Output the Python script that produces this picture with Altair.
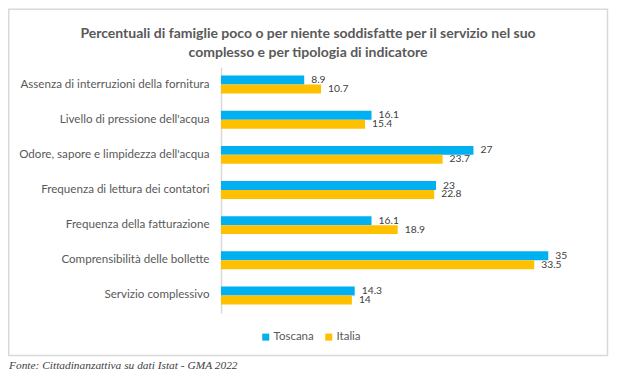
import altair as alt
import pandas as pd

CATEGORIES = [
    "Assenza di interruzioni della fornitura",
    "Livello di pressione dell'acqua",
    "Odore, sapore e limpidezza dell'acqua",
    "Frequenza di lettura dei contatori",
    "Frequenza della fatturazione",
    "Comprensibilità delle bollette",
    "Servizio complessivo",
]
TOSCANA = [8.9, 16.1, 27, 23, 16.1, 35, 14.3]
ITALIA = [10.7, 15.4, 23.7, 22.8, 18.9, 33.5, 14]
SERIES = ["Toscana", "Italia"]
COLORS = ["#00B0F0", "#FFC000"]
TITLE = ("Percentuali di famiglie poco o per niente soddisfatte per il servizio nel suo\n"
         "complesso e per tipologia di indicatore")
SOURCE = "Fonte: Cittadinanzattiva su dati Istat - GMA 2022"

rows = []
for c, t, i in zip(CATEGORIES, TOSCANA, ITALIA):
    rows.append({"categoria": c, "serie": "Toscana", "valore": t})
    rows.append({"categoria": c, "serie": "Italia", "valore": i})
df = pd.DataFrame(rows)

W = 374
H = 246

y_enc = alt.Y(
    "categoria:N",
    sort=CATEGORIES,
    scale=alt.Scale(paddingInner=0.489, paddingOuter=0.2445),
    axis=alt.Axis(
        title=None, ticks=False, domainColor="#d9d9d9", domainWidth=1.5,
        labelFont="Lato", labelFontSize=11.6, labelColor="#595959",
        labelPadding=12, labelLimit=400,
    ),
)
yoff = alt.YOffset("serie:N", sort=SERIES, scale=alt.Scale(paddingInner=0, paddingOuter=0))
x_enc = alt.X("valore:Q", scale=alt.Scale(domain=[0, 40]), axis=None)

base = alt.Chart(df)

bars = base.mark_bar().encode(
    y=y_enc,
    yOffset=yoff,
    x=x_enc,
    color=alt.Color(
        "serie:N",
        sort=SERIES,
        scale=alt.Scale(domain=SERIES, range=COLORS),
        legend=alt.Legend(
            orient="none", legendX=39, legendY=264, direction="horizontal",
            title=None, symbolType="square", symbolSize=49, symbolStrokeWidth=0,
            labelFont="Lato", labelFontSize=11.5, labelColor="#595959",
            labelOffset=2, columnPadding=9,
        ),
    ),
)

labels = base.mark_text(
    align="left", baseline="middle", dx=7, font="Lato", fontSize=10.3, color="#404040"
).encode(
    y=alt.Y("categoria:N", sort=CATEGORIES),
    yOffset=alt.YOffset("serie:N", sort=SERIES),
    x="valore:Q",
    text=alt.Text("valore:Q", format=".1~f"),
)

one = pd.DataFrame({"k": [0]})

frame = alt.Chart(one).mark_rect(
    fill="white", fillOpacity=0, stroke="#d9d9d9", strokeWidth=1.5
).encode(
    x=alt.value(-212.25), x2=alt.value(386.5),
    y=alt.value(-57.65), y2=alt.value(288.6),
)

title = alt.Chart(pd.DataFrame({"t": [TITLE]})).mark_text(
    font="Lato", fontSize=14, fontWeight="bold", color="#595959",
    align="center", baseline="middle", lineBreak="\n", lineHeight=19,
).encode(x=alt.value(87), y=alt.value(-32.9), text="t:N")

source = alt.Chart(pd.DataFrame({"t": [SOURCE]})).mark_text(
    font="Liberation Serif", fontSize=11.4, fontStyle="italic", color="#404040",
    align="left", baseline="middle",
).encode(x=alt.value(-212), y=alt.value(298.6), text="t:N")

chart = alt.layer(frame, bars, labels, title, source).properties(
    width=W, height=H, padding=0
).configure_view(stroke=None)

chart.save("out.html", embed_options={"renderer": "svg", "actions": False})
